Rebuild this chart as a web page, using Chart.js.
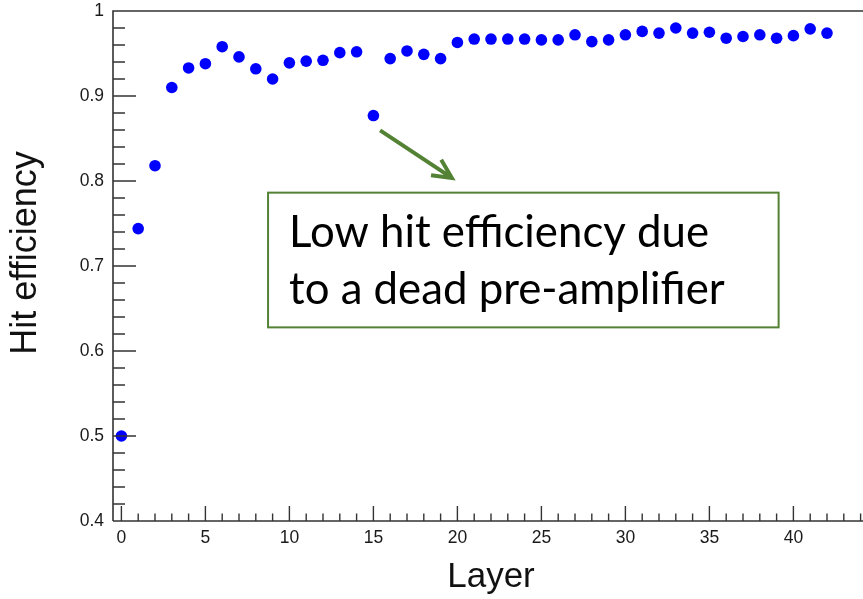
<!DOCTYPE html>
<html>
<head>
<meta charset="utf-8">
<script src="https://cdn.jsdelivr.net/npm/chart.js@4/dist/chart.umd.min.js"></script>
<style>
html,body{margin:0;padding:0;background:#fff;overflow:hidden;}
#wrap{width:880px;height:599px;}
</style>
</head>
<body>
<div id="wrap"><canvas id="c" width="880" height="599"></canvas></div>
<script>
// ---- data ----
const layers = [0,1,2,3,4,5,6,7,8,9,10,11,12,13,14,15,16,17,18,19,20,21,22,23,24,25,26,27,28,29,30,31,32,33,34,35,36,37,38,39,40,41,42];
const hitEfficiency = [0.500,0.744,0.818,0.910,0.933,0.938,0.958,0.946,0.932,0.920,0.939,0.941,0.942,0.951,0.952,0.877,0.944,0.953,0.949,0.944,0.963,0.967,0.967,0.967,0.967,0.966,0.966,0.972,0.964,0.966,0.972,0.976,0.974,0.980,0.974,0.975,0.968,0.970,0.972,0.968,0.971,0.979,0.974];
const xTickValues = [0,5,10,15,20,25,30,35,40];
const xTickLabels = ['0','5','10','15','20','25','30','35','40'];
const yTickValues = [0.4,0.5,0.6,0.7,0.8,0.9,1.0];
const yTickLabels = ['0.4','0.5','0.6','0.7','0.8','0.9','1'];
const xTitle = 'Layer';
const yTitle = 'Hit efficiency';
const noteLines = ['Low hit efficiency due', 'to a dead pre-amplifier'];

// ---- annotation placement (data units) ----
const noteBox = {x0: 8.73, x1: 39.12, yTop: 0.7863, yBottom: 0.6278};
const noteArrow = {x0: 15.40, y0: 0.8595, x1: 19.67, y1: 0.8036};

const axisColor = '#333333';
const green = '#548235';

const framePlugin = {
  id: 'frame',
  afterDatasetsDraw(chart) {
    const {ctx, chartArea: a, scales: {x, y}} = chart;
    ctx.save();
    ctx.strokeStyle = axisColor;
    ctx.lineWidth = 1.6;
    ctx.beginPath();
    ctx.moveTo(a.left, a.bottom); ctx.lineTo(a.left, a.top); ctx.lineTo(a.right, a.top);
    ctx.moveTo(a.left, a.bottom); ctx.lineTo(a.right, a.bottom);
    ctx.stroke();
    ctx.lineWidth = 1.4;
    ctx.beginPath();
    for (let v = 0; v <= 44; v++) {
      const px = x.getPixelForValue(v);
      const len = (v % 5 === 0) ? 15 : 7.5;
      ctx.moveTo(px, a.bottom); ctx.lineTo(px, a.bottom - len);
    }
    for (let k = 21; k < 50; k++) {
      const v = k / 50;
      const py = y.getPixelForValue(v);
      const len = (k % 5 === 0) ? 23 : 12;
      ctx.moveTo(a.left, py); ctx.lineTo(a.left + len, py);
    }
    ctx.stroke();

    // y title
    ctx.save();
    ctx.fillStyle = '#111';
    ctx.font = '36px "Liberation Sans"';
    ctx.textAlign = 'center';
    ctx.textBaseline = 'middle';
    ctx.translate(26, (a.top + a.bottom) / 2 - 13);
    ctx.rotate(-Math.PI / 2);
    ctx.fillText(yTitle, 0, 0);
    ctx.restore();

    // annotation box
    const bx0 = x.getPixelForValue(noteBox.x0), bx1 = x.getPixelForValue(noteBox.x1);
    const by0 = y.getPixelForValue(noteBox.yTop), by1 = y.getPixelForValue(noteBox.yBottom);
    ctx.fillStyle = '#ffffff';
    ctx.fillRect(bx0, by0, bx1 - bx0, by1 - by0);
    ctx.strokeStyle = green;
    ctx.lineWidth = 2;
    ctx.strokeRect(bx0, by0, bx1 - bx0, by1 - by0);
    ctx.fillStyle = '#000000';
    ctx.font = '40px Lato';
    const w = ctx.measureText(noteLines[0]).width;
    const fs = 40 * 420 / w;
    ctx.font = fs.toFixed(2) + 'px Lato';
    ctx.textBaseline = 'alphabetic';
    ctx.textAlign = 'left';
    ctx.fillText(noteLines[0], bx0 + 21, by0 + 54.5);
    ctx.fillText(noteLines[1], bx0 + 21, by0 + 111);

    // arrow
    const ax0 = x.getPixelForValue(noteArrow.x0), ay0 = y.getPixelForValue(noteArrow.y0);
    const ax1 = x.getPixelForValue(noteArrow.x1), ay1 = y.getPixelForValue(noteArrow.y1);
    const ang = Math.atan2(ay1 - ay0, ax1 - ax0);
    ctx.strokeStyle = green;
    ctx.lineWidth = 4;
    ctx.beginPath();
    ctx.moveTo(ax0, ay0); ctx.lineTo(ax1, ay1);
    const hl = 21, ha = 26 * Math.PI / 180;
    ctx.moveTo(ax1 - hl * Math.cos(ang - ha), ay1 - hl * Math.sin(ang - ha));
    ctx.lineTo(ax1, ay1);
    ctx.lineTo(ax1 - hl * Math.cos(ang + ha), ay1 - hl * Math.sin(ang + ha));
    ctx.stroke();
    ctx.restore();
  }
};

new Chart(document.getElementById('c'), {
  type: 'scatter',
  data: {
    datasets: [{
      data: layers.map((l, i) => ({x: l, y: hitEfficiency[i]})),
      backgroundColor: '#0000ff',
      borderWidth: 0,
      pointRadius: 5.8,
      pointHoverRadius: 5.8
    }]
  },
  options: {
    responsive: false,
    animation: false,
    layout: {padding: {top: 11, right: 11, left: 0, bottom: 0}},
    plugins: {legend: {display: false}, tooltip: {enabled: false}},
    scales: {
      x: {
        type: 'linear', min: -0.5, max: 44.5,
        afterBuildTicks: s => { s.ticks = xTickValues.map(v => ({value: v})); },
        afterFit: s => { s.height = 78; s.paddingLeft = 0; s.paddingRight = 0; },
        grid: {display: false, drawTicks: false},
        border: {display: false},
        ticks: {
          autoSkip: false, maxRotation: 0, padding: 7, color: '#1a1a1a',
          font: {family: 'Liberation Sans', size: 17.5},
          callback: (v) => { const i = xTickValues.indexOf(v); return i >= 0 ? xTickLabels[i] : ''; }
        },
        title: {display: true, text: xTitle, color: '#111',
          font: {family: 'Liberation Sans', size: 35, lineHeight: 1.2}, padding: {top: 0, bottom: 1}}
      },
      y: {
        type: 'linear', min: 0.4, max: 1.0,
        afterBuildTicks: s => { s.ticks = yTickValues.map(v => ({value: v})); },
        afterFit: s => { s.width = 113; s.paddingTop = 0; s.paddingBottom = 0; },
        grid: {display: false, drawTicks: false},
        border: {display: false},
        ticks: {
          autoSkip: false, padding: 9, color: '#1a1a1a',
          font: {family: 'Liberation Sans', size: 17.5},
          callback: (v) => { const i = yTickValues.findIndex(t => Math.abs(t - v) < 1e-9); return i >= 0 ? yTickLabels[i] : ''; }
        },
        title: {display: false}
      }
    }
  },
  plugins: [framePlugin]
});
</script>
</body>
</html>
